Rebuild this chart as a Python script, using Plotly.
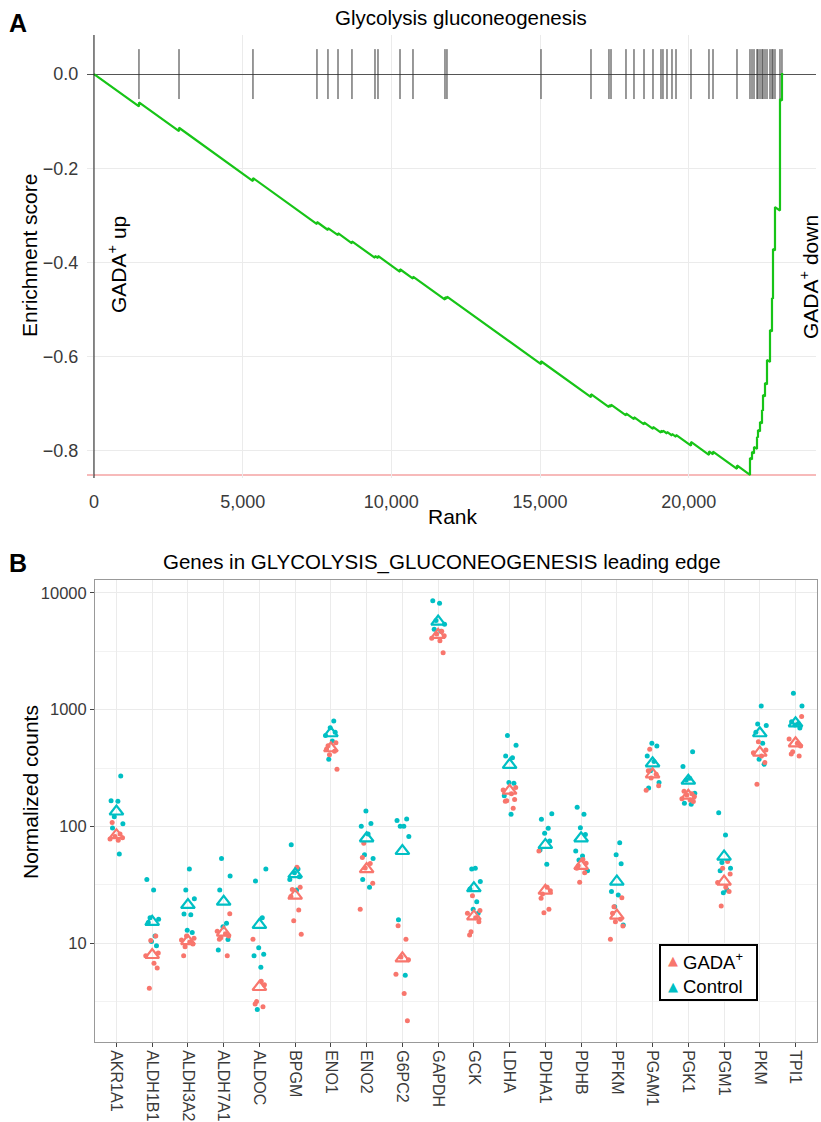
import plotly.graph_objects as go

W, H = 821, 1122
FONT = "Liberation Sans, Arial, Helvetica, sans-serif"

# ---------------- Panel A data ----------------
HIT_RANKS = [1513, 2859, 5347, 7499, 7869, 8206, 8676, 9450, 9551, 10291,
             10728, 11804, 11871, 15033, 16714, 17319, 17387, 17891, 18160, 18497,
             18799, 19068, 19135, 19270, 19438, 19573, 20077, 20682, 20817, 21624,
             22061, 22129, 22196, 22297, 22330, 22398, 22465, 22499, 22566, 22633,
             22734, 22801, 22835, 22902, 23070, 23137]
ES_BEFORE_HIT = [-0.0688, -0.1214, -0.2272, -0.3185, -0.3312, -0.3423, -0.3594, -0.3904, -0.3907, -0.4200,
                 -0.4346, -0.4792, -0.4769, -0.6163, -0.6864, -0.7076, -0.7064, -0.7251, -0.7331, -0.7442,
                 -0.7537, -0.7618, -0.7605, -0.7635, -0.7677, -0.7705, -0.7894, -0.8089, -0.8076, -0.8386,
                 -0.8514, -0.8185, -0.8057, -0.7962, -0.7722, -0.7590, -0.7420, -0.7149, -0.6847, -0.6592,
                 -0.6115, -0.5467, -0.4771, -0.3747, -0.2900, -0.0561]
ES_AFTER_HIT = [-0.0603, -0.1140, -0.2208, -0.3142, -0.3270, -0.3380, -0.3552, -0.3862, -0.3864, -0.4146,
                -0.4304, -0.4739, -0.4726, -0.6100, -0.6800, -0.7034, -0.7021, -0.7208, -0.7289, -0.7399,
                -0.7495, -0.7575, -0.7573, -0.7601, -0.7643, -0.7665, -0.7813, -0.8015, -0.8019, -0.8314,
                -0.8153, -0.8025, -0.7919, -0.7707, -0.7558, -0.7389, -0.7134, -0.6815, -0.6561, -0.6072,
                -0.5435, -0.4756, -0.3715, -0.2824, -0.0531, 0.0]
START_RANK, START_ES = 0, 0.0
END_RANK, END_ES = 23180, 0.0

RANK_TICKS = [0, 5000, 10000, 15000, 20000]
RANK_TICK_LABELS = ["0", "5,000", "10,000", "15,000", "20,000"]
ES_TICKS = [0.0, -0.2, -0.4, -0.6, -0.8]
ES_TICK_LABELS = ["0.0", "\u22120.2", "\u22120.4", "\u22120.6", "\u22120.8"]

# ---------------- Panel B data ----------------
GENES = ["AKR1A1", "ALDH1B1", "ALDH3A2", "ALDH7A1", "ALDOC", "BPGM", "ENO1", "ENO2", "G6PC2", "GAPDH",
         "GCK", "LDHA", "PDHA1", "PDHB", "PFKM", "PGAM1", "PGK1", "PGM1", "PKM", "TPI1"]
GROUPS = ["GADA<sup>+</sup>", "Control"]
GADA_MEAN = [84, 7.9, 10.4, 12.3, 4.2, 25.5, 467, 43, 7.4, 4370,
             16.9, 202, 28.1, 45.8, 17.2, 279, 183, 33.6, 428, 515]
CTRL_MEAN = [134, 15.2, 21.2, 22.6, 14.3, 38.9, 628, 79, 61.5, 5680,
             29.5, 336, 69.3, 79, 33.6, 347, 246, 55, 628, 764]
GADA_POINTS = [
    [108, 86, 82, 80, 78, 76],
    [11.5, 10.5, 8.2, 7.8, 6.7, 6.1, 4.1],
    [11.5, 11.0, 10.6, 10.2, 9.8, 9.3, 7.8],
    [17.8, 12.6, 12.0, 11.5, 11.1, 10.8, 7.8],
    [10.8, 4.7, 4.4, 3.15, 3.0, 2.85],
    [44.6, 30, 28.8, 25, 19.2, 15.5, 11.9],
    [520, 490, 460, 440, 410, 308],
    [71.6, 54, 48, 44, 32.6, 19.5],
    [14.1, 10.8, 7.6, 7.2, 5.4, 3.7, 2.16],
    [4700, 4450, 4300, 4090, 3900, 3080],
    [25.4, 19, 18, 16.5, 15.2, 12.5, 11.7],
    [215, 205, 190, 170, 166, 164, 143],
    [61.5, 30, 28, 26.3, 24.2, 19.5, 18.2],
    [52, 48.3, 46, 43.8, 40, 33.2],
    [24.5, 20.5, 18, 16, 15.2, 14, 10.8],
    [457, 300, 280, 260, 223, 204],
    [200, 190, 186, 180, 172, 168, 163],
    [50, 43.8, 39, 33, 30, 27.6, 20.8],
    [532, 450, 428, 400, 352, 230],
    [872, 560, 515, 489, 436, 417, 401],
]
CTRL_POINTS = [
    [270, 166, 164, 121, 105, 97, 58],
    [35, 28.5, 16.5, 16, 15, 11.5, 10.3, 9.5],
    [43, 28.5, 24, 17.7, 17.5, 12.9, 12.3],
    [53, 37.6, 28.5, 14.8, 13.8, 10.7, 8.7],
    [43, 34, 16.5, 9.1, 8.0, 7.8, 6.2, 2.7],
    [69.7, 43, 40, 37, 35, 28.5],
    [800, 700, 640, 600, 540, 376],
    [135.5, 106, 100, 86, 57, 53, 35, 30],
    [115.6, 112, 100, 100, 81.7, 15.8, 5.3],
    [8560, 8160, 5800, 5400, 4890, 4700],
    [43.7, 43, 33.6, 29, 22.6, 19.5, 18],
    [599, 495, 401, 388, 237, 234, 183, 127],
    [128, 115, 96.4, 87.2, 75, 62.8, 47.4],
    [146, 127, 97.5, 85, 61.5, 55.7, 51.5, 41.7],
    [72.4, 57, 47.7, 27.6, 25.8, 20.5, 14.3],
    [515, 489, 401, 360, 300, 237, 213],
    [436, 325, 258, 250, 192, 158, 155],
    [131, 84.4, 48.9, 43.8, 41.7, 28.5, 27],
    [1077, 753, 730, 640, 515, 376, 340],
    [1380, 1077, 789, 760, 740, 697],
]
COUNT_TICKS = [10, 100, 1000, 10000]
COUNT_TICK_LABELS = ["10", "100", "1000", "10000"]
COUNT_MINOR = [3.162, 31.62, 316.2, 3162]

# ---------------- styles / positions ----------------
GREEN = "#17C417"
RED = "#F8766D"
TEAL = "#00BFC4"
TICK_HALF = 0.053
JIT_RED = [-0.12, 0.10, -0.04, 0.17, -0.18, 0.05, 0.14, -0.08]
JIT_TEAL = [0.12, -0.15, 0.04, -0.06, 0.18, -0.11, 0.08, -0.02]


def fx(x):
    return x / W


def fy(y):
    return 1 - y / H


fig = go.Figure()

# gene hit ticks
tx, ty = [], []
for r in HIT_RANKS:
    tx += [r, r, None]
    ty += [TICK_HALF, -TICK_HALF, None]
fig.add_trace(go.Scatter(x=tx, y=ty, mode="lines", line=dict(color="#333333", width=1),
                         hoverinfo="skip", showlegend=False, xaxis="x", yaxis="y"))

# running enrichment score
cx, cy = [START_RANK], [START_ES]
for r, b, a in zip(HIT_RANKS, ES_BEFORE_HIT, ES_AFTER_HIT):
    cx += [r, r]
    cy += [b, a]
cx.append(END_RANK)
cy.append(END_ES)
fig.add_trace(go.Scatter(x=cx, y=cy, mode="lines", line=dict(color=GREEN, width=2.2),
                         hoverinfo="skip", showlegend=False, xaxis="x", yaxis="y"))

es_min = min(cy)

# panel B points
for gi, (gp, cp) in enumerate(zip(GADA_POINTS, CTRL_POINTS)):
    fig.add_trace(go.Scatter(
        x=[gi + JIT_TEAL[(j + gi) % len(JIT_TEAL)] for j in range(len(cp))], y=cp,
        mode="markers", marker=dict(color=TEAL, size=5), showlegend=False,
        xaxis="x2", yaxis="y2", hoverinfo="skip"))
    fig.add_trace(go.Scatter(
        x=[gi + JIT_RED[(j + gi) % len(JIT_RED)] for j in range(len(gp))], y=gp,
        mode="markers", marker=dict(color=RED, size=5), showlegend=False,
        xaxis="x2", yaxis="y2", hoverinfo="skip"))

idx = list(range(len(GENES)))
fig.add_trace(go.Scatter(x=idx, y=CTRL_MEAN, mode="markers", name=GROUPS[1],
                         marker=dict(symbol="triangle-up-open", size=12, color=TEAL, line=dict(width=2.2, color=TEAL)),
                         showlegend=False, xaxis="x2", yaxis="y2", hoverinfo="skip"))
fig.add_trace(go.Scatter(x=idx, y=GADA_MEAN, mode="markers", name=GROUPS[0],
                         marker=dict(symbol="triangle-up-open", size=12, color=RED, line=dict(width=2.2, color=RED)),
                         showlegend=False, xaxis="x2", yaxis="y2", hoverinfo="skip"))

GRID = "#EBEBEB"
TICKC = "#3A3A3A"

shapes = [
    # minimum-ES reference line
    dict(type="line", xref="x domain", yref="y", x0=0, x1=1, y0=es_min, y1=es_min,
         line=dict(color="#F4A3A3", width=1.5), layer="below"),
    # vertical axis line at rank 0
    dict(type="line", xref="x", yref="y domain", x0=0, x1=0, y0=0, y1=1,
         line=dict(color="#1A1A1A", width=1)),
    # legend box
    dict(type="rect", xref="paper", yref="paper", x0=fx(660), x1=fx(757), y0=fy(1000), y1=fy(945),
         line=dict(color="black", width=2), fillcolor="white"),
]

fig.update_layout(
    width=W, height=H, autosize=False,
    margin=dict(l=0, r=0, t=0, b=0),
    paper_bgcolor="white", plot_bgcolor="white",
    font=dict(family=FONT, color="black"),
    showlegend=False,
    xaxis=dict(domain=[fx(87), fx(816)], range=[-235, 24281], anchor="y",
               tickmode="array", tickvals=RANK_TICKS, ticktext=RANK_TICK_LABELS,
               showgrid=True, gridcolor=GRID, gridwidth=1,
               zeroline=False,
               showline=False, ticks="outside", ticklen=7, tickcolor="rgba(0,0,0,0)",
               tickfont=dict(size=18, color=TICKC, family=FONT)),
    yaxis=dict(domain=[fy(478), fy(35)], range=[-0.858, 0.083], anchor="x",
               tickmode="array", tickvals=ES_TICKS, ticktext=ES_TICK_LABELS,
               showgrid=True, gridcolor=GRID, gridwidth=1,
               zeroline=True, zerolinecolor="#555555", zerolinewidth=1,
               showline=False, ticks="outside", ticklen=4, tickcolor="rgba(0,0,0,0)",
               tickfont=dict(size=18, color=TICKC, family=FONT)),
    xaxis2=dict(domain=[fx(95), fx(817)], range=[-0.6, 19.6], anchor="y2",
                tickmode="array", tickvals=idx, ticktext=GENES, tickangle=90,
                showgrid=True, gridcolor=GRID, gridwidth=1, zeroline=False,
                showline=True, mirror=True, linecolor="#999999", linewidth=1,
                ticks="outside", ticklen=4, tickcolor="#444444", tickwidth=1,
                tickfont=dict(size=16, color=TICKC, family=FONT)),
    yaxis2=dict(domain=[fy(1042), fy(580)], type="log", range=[0.152, 4.111], anchor="x2",
                tickmode="array", tickvals=COUNT_TICKS, ticktext=COUNT_TICK_LABELS,
                showgrid=True, gridcolor=GRID, gridwidth=1.2, zeroline=False,
                showline=True, mirror=True, linecolor="#999999", linewidth=1,
                ticks="outside", ticklen=4, tickcolor="#444444", tickwidth=1,
                tickfont=dict(size=16.5, color=TICKC, family=FONT),
                minor=dict(tickmode="array", tickvals=COUNT_MINOR, showgrid=True,
                           gridcolor="#F2F2F2", gridwidth=1, ticks="")),
    shapes=shapes,
)

ann = []


def add_text(text, x, y, size, angle=0, bold=False, color="black", xanchor="center", family=FONT):
    ann.append(dict(text=f"<b>{text}</b>" if bold else text, x=fx(x), y=fy(y),
                    xref="paper", yref="paper", xanchor=xanchor, yanchor="middle",
                    showarrow=False, textangle=angle,
                    font=dict(size=size, color=color, family=family)))


add_text("A", 18, 23, 25, bold=True)
add_text("B", 18, 563, 25, bold=True)
add_text("Glycolysis gluconeogenesis", 461, 18, 20.5)
add_text("Rank", 453, 516, 21)
add_text("Enrichment score", 30, 256, 21, angle=-90)
add_text("GADA<sup>+</sup> up", 117, 265, 21, angle=-90)
add_text("GADA<sup>+</sup> down", 809, 277, 21, angle=-90)
add_text("Genes in GLYCOLYSIS_GLUCONEOGENESIS leading edge", 442, 562, 20.5)
add_text("Normalized counts", 30, 792, 21, angle=-90)
# legend content
add_text("\u25B2", 673, 961, 13, color=RED, family="DejaVu Sans")
add_text("\u25B2", 673, 986, 13, color=TEAL, family="DejaVu Sans")
add_text(GROUPS[0], 681, 961, 18.5, xanchor="left")
add_text(GROUPS[1], 681, 986, 18.5, xanchor="left")
fig.update_layout(annotations=ann)

fig.write_html("out.html",
               config={"displayModeBar": False},
               post_script="document.body.style.margin='0';document.body.style.padding='0';"
                           "document.documentElement.style.overflow='hidden';")
